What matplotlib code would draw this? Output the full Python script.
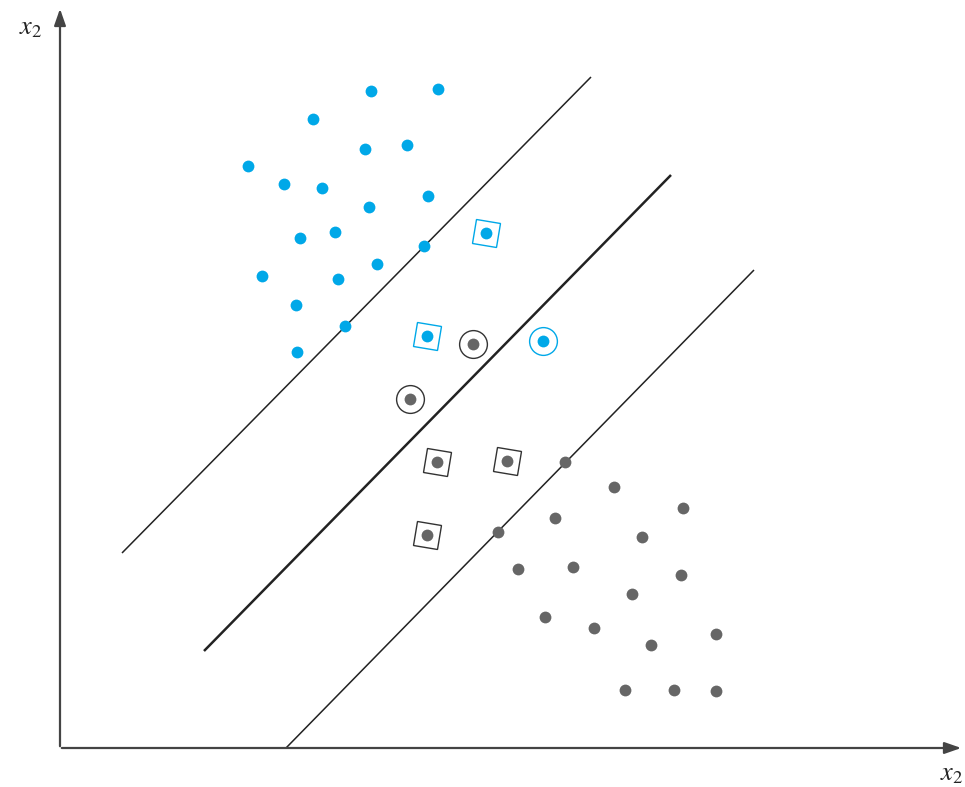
import matplotlib
matplotlib.use("Agg")
import matplotlib.pyplot as plt
from matplotlib.markers import MarkerStyle
from matplotlib.transforms import Affine2D

plt.rcParams['mathtext.fontset'] = 'stix'

# Data (pixel-like coordinate frame, y downwards)
blue_x = [371, 438, 313, 365, 407, 248, 284, 322, 369, 428, 300, 335, 424, 262, 338, 377, 296, 345, 297]
blue_y = [91, 89, 119, 149, 145, 166, 184, 188, 207, 196, 238, 232, 246, 276, 279, 264, 305, 326, 352]
blue_sq_x = [486, 427]
blue_sq_y = [233, 336]
blue_circ_x = [543]
blue_circ_y = [341]

gray_x = [565, 614, 683, 555, 498, 642, 518, 573, 681, 632, 545, 594, 651, 716, 625, 674, 716]
gray_y = [462, 487, 508, 518, 532, 537, 569, 567, 575, 594, 617, 628, 645, 634, 690, 690, 691]
gray_sq_x = [437, 507, 427]
gray_sq_y = [462, 461, 535]
gray_circ_x = [473, 410]
gray_circ_y = [344, 399]

lines_x = [[122, 591], [204, 671], [286, 754]]
lines_y = [[553, 77], [651, 175], [748, 270]]
line_widths = [1.1, 1.8, 1.1]

BLUE = '#00a8e8'
GRAY = '#666666'

fig = plt.figure(figsize=(9.65, 7.87), dpi=100)
ax = fig.add_axes([0, 0, 1, 1])
ax.set_xlim(0, 965)
ax.set_ylim(787, 0)
ax.axis('off')

# axes with arrows
ax.annotate('', xy=(60, 6), xytext=(60, 749),
            arrowprops=dict(arrowstyle='-|>,head_length=1.0,head_width=0.35', color='#444444', lw=1.6))
ax.annotate('', xy=(964, 748), xytext=(59, 748),
            arrowprops=dict(arrowstyle='-|>,head_length=1.0,head_width=0.35', color='#444444', lw=1.6))

for lx, ly, lw in zip(lines_x, lines_y, line_widths):
    ax.plot(lx, ly, color='#222222', lw=lw, solid_capstyle='butt')

sq = MarkerStyle('s', transform=Affine2D().rotate_deg(-10))

ax.plot(blue_x, blue_y, 'o', color=BLUE, ms=8.5, mec='none')
ax.plot(blue_sq_x, blue_sq_y, 'o', color=BLUE, ms=8.5, mec='none')
ax.plot(blue_sq_x, blue_sq_y, linestyle='none', marker=sq, ms=17, mfc='none', mec=BLUE, mew=1.0)
ax.plot(blue_circ_x, blue_circ_y, 'o', color=BLUE, ms=8.5, mec='none')
ax.plot(blue_circ_x, blue_circ_y, 'o', ms=20, mfc='none', mec=BLUE, mew=1.0)

ax.plot(gray_x, gray_y, 'o', color=GRAY, ms=8.5, mec='none')
ax.plot(gray_sq_x, gray_sq_y, 'o', color=GRAY, ms=8.5, mec='none')
ax.plot(gray_sq_x, gray_sq_y, linestyle='none', marker=sq, ms=17, mfc='none', mec='#333333', mew=1.0)
ax.plot(gray_circ_x, gray_circ_y, 'o', color=GRAY, ms=8.5, mec='none')
ax.plot(gray_circ_x, gray_circ_y, 'o', ms=20, mfc='none', mec='#333333', mew=1.0)

ax.text(31, 27, r'$x_2$', fontsize=19, ha='center', va='center', color='#222222')
ax.text(952, 773, r'$x_2$', fontsize=19, ha='center', va='center', color='#222222')

fig.savefig('out.png', dpi=100)
